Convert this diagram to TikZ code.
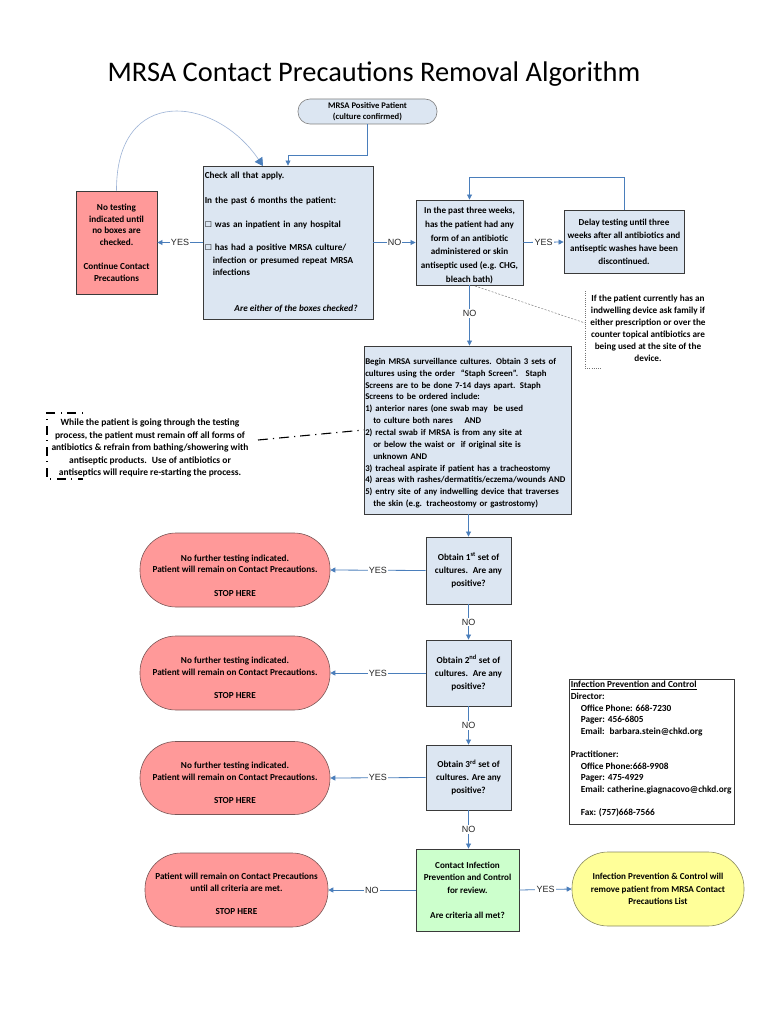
\documentclass[tikz,border=0pt]{standalone}
\usepackage{fontspec}
\setmainfont{Carlito}
\newfontfamily\labfont{Liberation Sans}
\newfontfamily\symfont{DejaVu Sans}
\usetikzlibrary{arrows.meta}
\definecolor{boxblue}{HTML}{DCE6F2}
\definecolor{boxline}{HTML}{3A3A3A}
\definecolor{salmon}{HTML}{FF9999}
\definecolor{salmonline}{HTML}{7A5656}
\definecolor{mintgreen}{HTML}{CCFFCC}
\definecolor{paleyellow}{HTML}{FFFF99}
\definecolor{yellowline}{HTML}{8A8A60}
\definecolor{arrowblue}{HTML}{4A7EBB}
\definecolor{curveblue}{HTML}{9DB3D6}
\newcommand{\cb}{{\symfont\fontsize{8}{9}\selectfont ☐}}
\begin{document}
\begin{tikzpicture}[x=1pt,y=-1pt,
  txt/.style={font=\fontsize{9.2}{12.4}\selectfont\bfseries, inner sep=0pt},
  bluebox/.style={draw=boxline, fill=boxblue, line width=0.9pt, inner sep=1pt, align=center, font=\fontsize{9.1}{13.8}\selectfont\bfseries},
  redbox/.style={draw=boxline, fill=salmon, line width=0.9pt, inner sep=1pt, align=center, font=\fontsize{9.2}{11.8}\selectfont\bfseries},
  stopbox/.style={draw=salmonline, fill=salmon, line width=0.6pt, rounded corners=36pt, inner sep=1pt},
  stoptxt/.style={inner sep=0pt, align=center, font=\fontsize{9.2}{11.7}\selectfont\bfseries},
  cultbox/.style={draw=boxline, fill=boxblue, line width=0.9pt, inner sep=1pt, align=center, minimum width=85pt, font=\fontsize{9.2}{13}\selectfont\bfseries},
  conn/.style={draw=arrowblue, line width=0.8pt, -{Triangle[width=5pt,length=5pt]}},
  lbl/.style={fill=white, inner sep=1.2pt, font=\labfont\fontsize{9}{10}\selectfont, text=black!85},
]
\useasboundingbox[fill=white] (0,0) rectangle (768,1024);

% title
\node[font=\fontsize{28.4}{32}\selectfont, anchor=base] (title) at (374,82) {MRSA Contact Precautions Removal Algorithm};

% top node
\node[draw=black!50, fill=boxblue, line width=0.6pt, rounded corners=12pt, minimum width=139pt, minimum height=25pt, align=center, inner sep=1pt, font=\fontsize{8.6}{11}\selectfont\bfseries] (top) at (367.5,111.5) {MRSA Positive Patient\\(culture confirmed)};

% check box
\node[bluebox, minimum width=170pt, minimum height=153pt] (check) at (288,242.5) {};
\node[txt, anchor=north west, align=left, text width=166pt] (checktxt) at ([xshift=2pt,yshift=-6.5pt]check.north west) {Check all that apply.\\[12pt]
In the past 6 months the patient:\\[11.5pt]
\cb\ was an inpatient in any hospital\\[11.5pt]
\cb\ has had a positive MRSA culture/\\
\hspace*{8pt}infection or presumed repeat MRSA\\
\hspace*{8pt}infections};
\node[txt, font=\fontsize{9.2}{11.7}\selectfont\bfseries\itshape, anchor=base] (checkq) at (296,311) {Are either of the boxes checked?};

% no testing
\node[redbox, minimum width=81pt, minimum height=103pt] (notest) at (116.5,242.5) {No testing\\indicated until\\no boxes are\\checked.\\[11.8pt]Continue Contact\\Precautions};

% three weeks
\node[bluebox, minimum width=107pt, minimum height=85pt] (three) at (469.5,242.5) {};
\node[stoptxt, font=\fontsize{9.1}{13.8}\selectfont\bfseries] (threetxt) at ([yshift=-3pt]three.center) {In the past three weeks,\\has the patient had any\\form of an antibiotic\\administered or skin\\antiseptic used (e.g. CHG,\\bleach bath)};

% delay
\node[bluebox, minimum width=120pt, minimum height=63pt, font=\fontsize{9.1}{13}\selectfont\bfseries] (delay) at (624,242) {Delay testing until three\\weeks after all antibiotics and\\antiseptic washes have been\\discontinued.};

% indwelling note
\coordinate (indtl) at (585,291);
\coordinate (indbl) at (585,368);
\coordinate (indbr) at (602,368);
\draw[black!55, line width=0.6pt, dash pattern=on 1pt off 1.2pt] (indtl) -- (indbl) -- (indbr);
\node[txt, align=center, font=\fontsize{9.2}{12}\selectfont\bfseries, anchor=north] (indw) at (648,295) {If the patient currently has an\\indwelling device ask family if\\either prescription or over the\\counter topical antibiotics are\\being used at the site of the\\device.};

% surveillance
\node[bluebox, minimum width=207pt, minimum height=168pt] (surv) at (467.5,430) {};
\node[txt, anchor=north west, align=left, text width=205pt, font=\fontsize{8.8}{11.85}\selectfont\bfseries] (survtxt) at ([xshift=1.5pt,yshift=-12.5pt]surv.north west) {Begin MRSA surveillance cultures. Obtain 3 sets of\\
cultures using the order ~“Staph Screen”. ~Staph\\
Screens are to be done 7-14 days apart. Staph\\
Screens to be ordered include:\\
1) anterior nares (one swab may ~be used\\
\hspace*{8pt}to culture both nares \quad AND\\
2) rectal swab if MRSA is from any site at\\
\hspace*{8pt}or below the waist or ~if original site is\\
\hspace*{8pt}unknown AND\\
3) tracheal aspirate if patient has a tracheostomy\\
4) areas with rashes/dermatitis/eczema/wounds AND\\
5) entry site of any indwelling device that traverses\\
\hspace*{8pt}the skin (e.g. tracheostomy or gastrostomy)};

% left note
\coordinate (lntr) at (83,413);
\coordinate (lntl) at (47,413);
\coordinate (lnbl) at (47,479);
\coordinate (lnbr) at (83,479);
\draw[black, line width=1.1pt, dash pattern=on 1pt off 6pt on 9pt off 5pt] (lntr) -- (lntl) -- (lnbl) -- (lnbr);
\node[txt, align=center, font=\fontsize{9.5}{12.4}\selectfont\bfseries, anchor=north] (lnote) at (150,419) {While the patient is going through the testing\\process, the patient must remain off all forms of\\antibiotics \& refrain from bathing/showering with\\antiseptic products. ~Use of antibiotics or\\antiseptics will require re-starting the process.};
\coordinate (lnend) at (258,440);

% culture boxes
\node[cultbox, minimum height=67pt] (c1) at (468.5,570.5) {Obtain 1\textsuperscript{st} set of\\cultures. ~Are any\\positive?};
\node[cultbox, minimum height=66pt] (c2) at (468.5,673) {Obtain 2\textsuperscript{nd} set of\\cultures. ~Are any\\positive?};
\node[cultbox, minimum height=65pt] (c3) at (468.5,777.5) {Obtain 3\textsuperscript{rd} set of\\cultures. Are any\\positive?};

% stop boxes
\node[stopbox, minimum width=190pt, minimum height=74pt] (s1) at (235,570) {};
\node[stoptxt] (s1t) at ([yshift=-5.5pt]s1.center) {No further testing indicated.\\Patient will remain on Contact Precautions.\\[11.7pt]STOP HERE};
\node[stopbox, minimum width=190pt, minimum height=74pt] (s2) at (235,673) {};
\node[stoptxt] (s2t) at ([yshift=-5pt]s2.center) {No further testing indicated.\\Patient will remain on Contact Precautions.\\[11.7pt]STOP HERE};
\node[stopbox, minimum width=190pt, minimum height=73pt] (s3) at (235,778) {};
\node[stoptxt] (s3t) at ([yshift=-5pt]s3.center) {No further testing indicated.\\Patient will remain on Contact Precautions.\\[11.7pt]STOP HERE};

% contact
\node[draw=boxline, fill=mintgreen, line width=0.9pt, minimum width=103pt, minimum height=82pt, align=center, inner sep=1pt, font=\fontsize{9.1}{12.5}\selectfont\bfseries] (contact) at (467.5,890) {Contact Infection\\Prevention and Control\\for review.\\[12.5pt]Are criteria all met?};
\node[stopbox, minimum width=183pt, minimum height=74pt] (s4) at (236.5,890) {};
\node[stoptxt] (s4t) at ([yshift=-4pt]s4.center) {Patient will remain on Contact Precautions\\until all criteria are met.\\[11.7pt]STOP HERE};
\node[draw=yellowline, fill=paleyellow, line width=0.6pt, rounded corners=36pt, minimum width=172pt, minimum height=74pt, align=center, inner sep=1pt, font=\fontsize{9.1}{12.5}\selectfont\bfseries] (yel) at (658,889) {Infection Prevention \& Control will\\remove patient from MRSA Contact\\Precautions List};

% info box
\node[draw=boxline, line width=0.8pt, fill=white, minimum width=165pt, minimum height=145pt] (info) at (651.5,751.5) {};
\node[txt, anchor=north west, align=left, font=\fontsize{9.3}{11.6}\selectfont\bfseries] (infotxt) at ([xshift=2pt,yshift=-2.5pt]info.north west) {\underline{Infection Prevention and Control}\\
Director:\\
\hspace*{10pt}Office Phone: 668-7230\\
\hspace*{10pt}Pager: 456-6805\\
\hspace*{10pt}Email: ~barbara.stein@chkd.org\\[11.6pt]
Practitioner:\\
\hspace*{10pt}Office Phone:668-9908\\
\hspace*{10pt}Pager: 475-4929\\
\hspace*{10pt}Email: catherine.giagnacovo@chkd.org\\[11.6pt]
\hspace*{10pt}Fax: (757)668-7566};

% connectors
\coordinate (topbend1) at (367.5,155);
\coordinate (topbend2) at (288,155);
\draw[conn] (top.south) -- (topbend1) -- (topbend2) -- (check.north);

\coordinate (curvetip) at (263,166);
\draw[curveblue, line width=0.6pt, -{Triangle[width=9pt,length=8pt,fill=arrowblue,color=arrowblue]}] (notest.north) .. controls (116,85) and (215,95) .. (curvetip);

\draw[conn] (check.west) -- node[lbl]{YES} (notest.east);
\draw[conn] (check.east) -- node[lbl]{NO} (three.west);
\draw[conn] (three.east) -- node[lbl]{YES} (delay.west);
\coordinate (loop1) at (624,177);
\coordinate (loop2) at (469.5,177);
\draw[conn] (delay.north) -- (loop1) -- (loop2) -- (three.north);
\draw[conn] (three.south) -- node[lbl, pos=0.47]{NO} (three.south |- surv.north);

\coordinate (dotstart) at (475,286);
\coordinate (dotend) at (585,323);
\draw[black!50, line width=0.5pt, dash pattern=on 2pt off 1.5pt] (dotstart) -- (dotend);

\draw[black, line width=1.1pt, dash pattern=on 10pt off 5pt on 1.2pt off 5pt] (lnend) -- (surv.west);

\draw[conn] (surv.south -| c1.north) -- (c1.north);
\draw[conn] (c1.west) -- node[lbl]{YES} (s1.east);
\draw[conn] (c1.south) -- node[lbl]{NO} (c2.north);
\draw[conn] (c2.west) -- node[lbl]{YES} (s2.east);
\draw[conn] (c2.south) -- node[lbl]{NO} (c3.north);
\draw[conn] (c3.west) -- node[lbl]{YES} (s3.east);
\draw[conn] (c3.south) -- node[lbl]{NO} (c3.south |- contact.north);
\draw[conn] (contact.west) -- node[lbl]{NO} (s4.east);
\draw[conn] (contact.east) -- node[lbl]{YES} (yel.west);
\end{tikzpicture}
\end{document}
